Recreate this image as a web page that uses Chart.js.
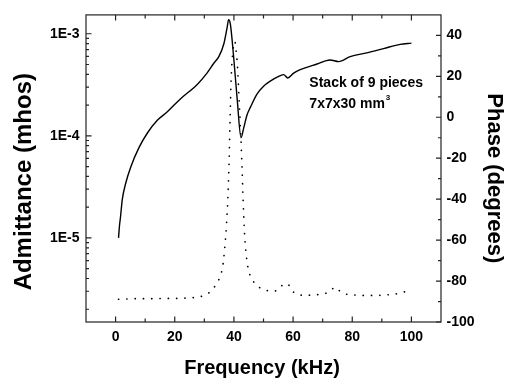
<!DOCTYPE html>
<html>
<head>
<meta charset="utf-8">
<title>Admittance and phase vs frequency</title>
<script src="https://cdn.jsdelivr.net/npm/chart.js@4.4.1/dist/chart.umd.min.js"></script>
<style>
  body { margin: 0; background: #fff; }
  #wrap { width: 511px; height: 389px; position: relative; }
</style>
</head>
<body>
<div id="wrap"><canvas id="impedanceChart"></canvas></div>
<script>
// Admittance (mhos), solid line, left log axis
const admFreq = [1.0, 1.3, 1.7, 2.25, 3.4, 5.1, 7.9, 10.7, 14.1, 17.4, 21.9, 27.6, 30.9, 33.2, 34.9,
    36.6, 37.7, 38.2, 38.8, 39.9, 41.1, 42.4, 43.3, 44.4, 45.6, 47.8, 50.1, 52.3, 54.6, 56.8,
    58.2, 60.2, 62.4, 68.1, 72.5, 75.4, 79.3, 84.9, 90.6, 96.2, 100];
const admittance = [1.0e-5, 1.3e-5, 1.64e-5, 2.36e-5, 3.41e-5, 4.93e-5, 7.66e-5, 1.06e-4, 1.42e-4, 1.71e-4,
    2.3e-4, 3.19e-4, 4.12e-4, 5.14e-4, 5.96e-4, 7.98e-4, 1.15e-3, 1.37e-3, 1.24e-3, 5.96e-4,
    2.3e-4, 9.6e-5, 1.19e-4, 1.59e-4, 1.91e-4, 2.56e-4, 3.08e-4, 3.43e-4, 3.75e-4, 3.98e-4,
    3.69e-4, 4.12e-4, 4.45e-4, 5.05e-4, 5.54e-4, 5.33e-4, 5.96e-4, 6.5e-4, 7.16e-4, 7.88e-4, 8.1e-4];

// Phase (degrees), dotted line, right axis
const phaseFreq = [1, 3, 5, 8, 12, 16, 20, 24, 28, 30, 31.5, 33, 34.5, 35.5, 36.2, 37.0, 37.5, 38.0,
    38.4, 38.7, 39.0, 39.4, 39.9, 40.3, 40.7, 41.2, 41.7, 42.2, 42.7, 43.1, 43.6, 44.3, 45.2,
    46.5, 48.5, 51, 54, 55.5, 57, 58.3, 59.5, 61, 64, 68, 71, 72.5, 74.2, 75.5, 77, 80, 84,
    88, 92, 95, 97, 100];
const phase = [-88.9, -88.8, -88.7, -88.6, -88.6, -88.5, -88.5, -88.3, -87.8, -87.0, -85.8, -83.6,
    -80.5, -77, -73, -62, -52, -38, -20, -2, 16, 28, 35, 37, 33, 25, 10, -5, -23, -40, -57,
    -69, -76, -80, -83, -84.6, -84.8, -83.5, -81.3, -81.6, -84.5, -86.2, -86.9, -86.7, -86,
    -85, -83, -84.5, -86, -86.7, -87, -87, -86.7, -86.2, -85.5, -84.5];

// axis ticks
const freqTicks = [0, 20, 40, 60, 80, 100];
const freqMinor = [10, 30, 50, 70, 90];
const admTicks = [1e-5, 1e-4, 1e-3];
const admLabels = ['1E-5', '1E-4', '1E-3'];
const phaseTicks = [-100, -80, -60, -40, -20, 0, 20, 40];
const phaseMinor = [-90, -70, -50, -30, -10, 10, 30];

const FONT = "'Liberation Sans', Arial, sans-serif";

function toPoints(xs, ys) {
    return xs.map((x, i) => ({ x: x, y: ys[i] }));
}

// frame, inward ticks, axis titles and the note
const decorPlugin = {
    id: 'decor',
    afterDraw(chart) {
        const ctx = chart.ctx;
        const a = chart.chartArea;
        const xs = chart.scales.x, ys = chart.scales.y, y2 = chart.scales.y2;
        ctx.save();
        ctx.strokeStyle = '#222';
        ctx.lineWidth = 1.2;
        ctx.strokeRect(a.left, a.top, a.right - a.left, a.bottom - a.top);

        ctx.beginPath();
        // x ticks, bottom and top
        freqTicks.concat(freqMinor).forEach(v => {
            const len = freqTicks.includes(v) ? 5.5 : 3.5;
            const px = xs.getPixelForValue(v);
            ctx.moveTo(px, a.bottom); ctx.lineTo(px, a.bottom - len);
            ctx.moveTo(px, a.top); ctx.lineTo(px, a.top + len);
        });
        // left log ticks
        for (let e = -6; e <= -3; e++) {
            for (let k = 1; k <= 9; k++) {
                const v = k * Math.pow(10, e);
                if (v < ys.min || v > ys.max) continue;
                const py = ys.getPixelForValue(v);
                const len = k === 1 ? 5.5 : 3;
                ctx.moveTo(a.left, py); ctx.lineTo(a.left + len, py);
            }
        }
        // right phase ticks
        phaseTicks.concat(phaseMinor).forEach(v => {
            const len = phaseTicks.includes(v) ? 5 : 3;
            const py = y2.getPixelForValue(v);
            ctx.moveTo(a.right, py); ctx.lineTo(a.right - len, py);
        });
        ctx.stroke();

        ctx.fillStyle = '#000';
        ctx.textAlign = 'center';
        ctx.textBaseline = 'middle';
        // axis titles
        ctx.font = 'bold 20px ' + FONT;
        ctx.fillText('Frequency (kHz)', 262, 368);

        ctx.save();
        ctx.translate(24.7, 181.7);
        ctx.rotate(-Math.PI / 2);
        ctx.font = 'bold 24px ' + FONT;
        ctx.fillText('Admittance (mhos)', 0, 0);
        ctx.restore();

        ctx.save();
        ctx.translate(494.2, 178.3);
        ctx.rotate(Math.PI / 2);
        ctx.font = 'bold 22px ' + FONT;
        ctx.fillText('Phase (degrees)', 0, 0);
        ctx.restore();

        // note
        ctx.textAlign = 'left';
        ctx.textBaseline = 'alphabetic';
        ctx.font = 'bold 14px ' + FONT;
        const nx = xs.getPixelForValue(65.5);
        ctx.fillText('Stack of 9 pieces', nx, y2.getPixelForValue(14.9));
        const line2 = '7x7x30 mm';
        const ny = y2.getPixelForValue(4.6);
        ctx.fillText(line2, nx, ny);
        const w = ctx.measureText(line2).width;
        ctx.font = 'bold 8px ' + FONT;
        ctx.fillText('3', nx + w + 1, ny - 8);
        ctx.restore();
    }
};

function renderChart() {
    const ctx = document.getElementById('impedanceChart').getContext('2d');
    new Chart(ctx, {
        type: 'line',
        data: {
            datasets: [{
                label: 'Admittance',
                data: toPoints(admFreq, admittance),
                yAxisID: 'y',
                borderColor: '#000',
                borderWidth: 1.4,
                pointRadius: 0,
                cubicInterpolationMode: 'monotone',
                fill: false
            }, {
                label: 'Phase',
                data: toPoints(phaseFreq, phase),
                yAxisID: 'y2',
                borderColor: '#000',
                borderWidth: 1.7,
                borderDash: [0.1, 8.2],
                borderCapStyle: 'round',
                pointRadius: 0,
                cubicInterpolationMode: 'monotone',
                fill: false
            }]
        },
        options: {
            responsive: true,
            maintainAspectRatio: false,
            animation: false,
            layout: { padding: { top: 7, left: 0, right: 0, bottom: 0 } },
            plugins: {
                legend: { display: false },
                tooltip: { enabled: false }
            },
            scales: {
                x: {
                    type: 'linear',
                    position: 'bottom',
                    min: -10,
                    max: 110,
                    grid: { display: false, drawTicks: false },
                    border: { display: false },
                    afterBuildTicks: s => { s.ticks = freqTicks.map(v => ({ value: v })); },
                    afterFit: s => { s.height = 67; },
                    ticks: {
                        color: '#000',
                        padding: 7,
                        maxRotation: 0,
                        font: { family: FONT, size: 14, weight: 'bold' }
                    }
                },
                y: {
                    type: 'logarithmic',
                    position: 'left',
                    min: 1.5e-6,
                    max: 1.53e-3,
                    grid: { display: false, drawTicks: false },
                    border: { display: false },
                    afterBuildTicks: s => { s.ticks = admTicks.map(v => ({ value: v })); },
                    afterFit: s => { s.width = 86; },
                    ticks: {
                        color: '#000',
                        padding: 6.5,
                        font: { family: FONT, size: 14, weight: 'bold' },
                        callback: v => admLabels[admTicks.findIndex(t => Math.abs(t - v) / t < 1e-6)] || ''
                    }
                },
                y2: {
                    type: 'linear',
                    position: 'right',
                    min: -100,
                    max: 50,
                    grid: { display: false, drawTicks: false },
                    border: { display: false },
                    afterBuildTicks: s => { s.ticks = phaseTicks.map(v => ({ value: v })); },
                    afterFit: s => { s.width = 70; },
                    ticks: {
                        color: '#000',
                        padding: 5.5,
                        font: { family: FONT, size: 14, weight: 'bold' }
                    }
                }
            }
        },
        plugins: [decorPlugin]
    });
}

document.addEventListener('DOMContentLoaded', function () {
    renderChart();
});
</script>
</body>
</html>
